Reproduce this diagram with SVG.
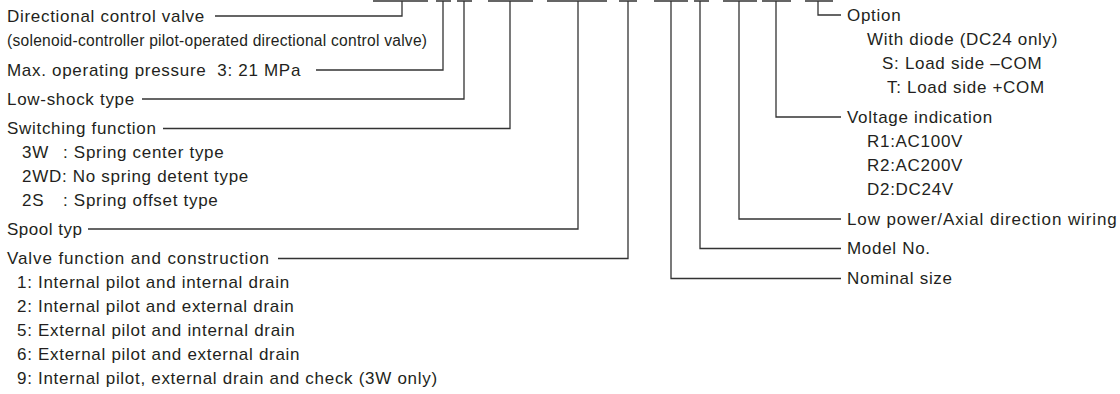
<svg xmlns="http://www.w3.org/2000/svg" width="1120" height="394" viewBox="0 0 1120 394">
<style>
text{font-family:"Liberation Sans",Arial,Helvetica,sans-serif;font-size:17px;fill:#231f20;letter-spacing:0.7px}
.sm{font-size:15.6px;letter-spacing:0.25px}
.wide{letter-spacing:0.9px}
.ln{fill:none;stroke:#333;stroke-width:1.3}
.bar{fill:none;stroke:#333;stroke-width:1.6}
</style>
<rect width="1120" height="394" fill="#fff"/>
<g id="code-bars">
<path class="bar" d="M373 1H428M436 1H451M457 1H472M488 1H533M547 1H607M619 1H637M654 1H688M694 1H709M723 1H757M762 1H791M805 1H833"/>
</g>
<g id="connectors">
<path class="ln" d="M215 16H402V1"/>
<path class="ln" d="M316 70H443V1"/>
<path class="ln" d="M142 99H464V1"/>
<path class="ln" d="M163 128.5H510V1"/>
<path class="ln" d="M88 229H578V1"/>
<path class="ln" d="M278 258.5H628V1"/>
<path class="ln" d="M841 278.5H671V1"/>
<path class="ln" d="M841 248.5H700V1"/>
<path class="ln" d="M841 219H739V1"/>
<path class="ln" d="M841 117H776V1"/>
<path class="ln" d="M841 15H818V1"/>
</g>
<g id="directional-control-valve">
<text x="7" y="21.5">Directional control valve</text>
<text class="sm" x="7" y="46">(solenoid-controller pilot-operated directional control valve)</text>
</g>
<g id="max-pressure"><text x="7" y="75.5" xml:space="preserve">Max. operating pressure  3: 21 MPa</text></g>
<g id="low-shock"><text x="7" y="104.5">Low-shock type</text></g>
<g id="switching-function">
<text x="7" y="134">Switching function</text>
<text x="22" y="158">3W</text><text x="63" y="158">: Spring center type</text>
<text x="22" y="182">2WD: No spring detent type</text>
<text x="22" y="206">2S</text><text x="63" y="206">: Spring offset type</text>
</g>
<g id="spool-type"><text x="7" y="234.5" style="letter-spacing:0.5px">Spool typ</text></g>
<g id="valve-function">
<text class="wide" x="7" y="264">Valve function and construction</text>
<text x="17" y="288">1: Internal pilot and internal drain</text>
<text x="17" y="312">2: Internal pilot and external drain</text>
<text x="17" y="336">5: External pilot and internal drain</text>
<text x="17" y="360">6: External pilot and external drain</text>
<text x="17" y="384">9: Internal pilot, external drain and check (3W only)</text>
</g>
<g id="option">
<text x="847" y="20.5">Option</text>
<text x="867" y="45">With diode (DC24 only)</text>
<text x="882" y="69">S: Load side –COM</text>
<text x="887" y="93">T: Load side +COM</text>
</g>
<g id="voltage-indication">
<text x="847" y="122.5">Voltage indication</text>
<text x="867" y="147">R1:AC100V</text>
<text x="867" y="171">R2:AC200V</text>
<text x="867" y="195">D2:DC24V</text>
</g>
<g id="low-power"><text class="wide" x="847" y="224.5">Low power/Axial direction wiring</text></g>
<g id="model-no"><text x="847" y="254">Model No.</text></g>
<g id="nominal-size"><text x="847" y="284">Nominal size</text></g>
</svg>
